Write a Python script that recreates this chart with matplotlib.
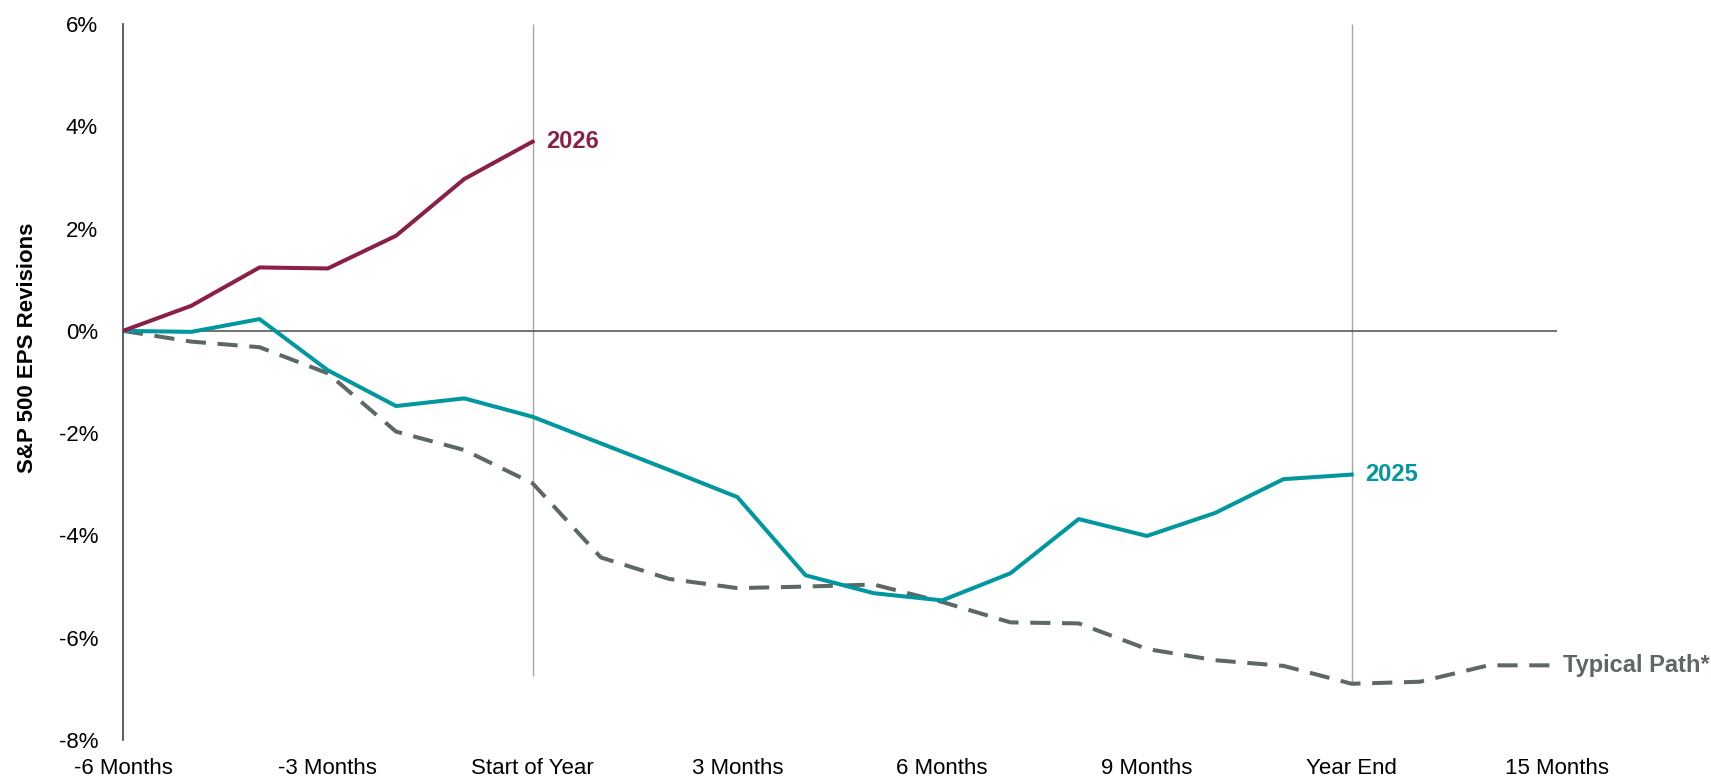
import matplotlib
matplotlib.use("Agg")
import matplotlib.pyplot as plt
from matplotlib import font_manager

# ---- data ----
months_2026 = [-6, -5, -4, -3, -2, -1, 0]
eps_2026 = [0.0, 0.49, 1.24, 1.22, 1.86, 2.97, 3.70]

months_2025 = list(range(-6, 13))
eps_2025 = [0.0, -0.02, 0.23, -0.77, -1.47, -1.32, -1.68, -2.20, -2.72, -3.25,
            -4.78, -5.13, -5.27, -4.74, -3.68, -4.01, -3.56, -2.90, -2.81]

months_typ = list(range(-6, 16))
eps_typ = [0.0, -0.21, -0.32, -0.83, -1.97, -2.33, -2.98, -4.43, -4.85, -5.03,
           -5.00, -4.96, -5.30, -5.70, -5.72, -6.22, -6.44, -6.55, -6.90, -6.86,
           -6.54, -6.54]

tick_pos = [-6, -3, 0, 3, 6, 9, 12, 15]
tick_labels = ["-6 Months", "-3 Months", "Start of Year", "3 Months", "6 Months",
               "9 Months", "Year End", "15 Months"]
y_ticks = [-8, -6, -4, -2, 0, 2, 4, 6]

c2026 = "#8A1F47"
c2025 = "#00979F"
ctyp = "#5D6766"

available = {f.name for f in font_manager.fontManager.ttflist}
fam = [f for f in ["Liberation Sans Narrow", "Liberation Sans", "DejaVu Sans"] if f in available]
plt.rcParams["font.family"] = fam

fig = plt.figure(figsize=(17.11, 7.84), dpi=100)
ax = fig.add_axes([0.0719, 0.0561, 0.9117 - 0.0719, 0.9694 - 0.0561])

ax.set_xlim(-6, 15.05)
ax.set_ylim(-8, 6)

# reference lines
ax.vlines(0, -6.75, 6, color="#A6A6A6", lw=1.0, zorder=1)
ax.vlines(12, -6.9, 6, color="#A6A6A6", lw=1.0, zorder=1)
ax.hlines(0, -6, 15, color="#595959", lw=1.2, zorder=1)

ax.plot(months_typ, eps_typ, color=ctyp, lw=2.9, dashes=(5.0, 2.9), zorder=2)
ax.plot(months_2025, eps_2025, color=c2025, lw=2.9, zorder=3)
ax.plot(months_2026, eps_2026, color=c2026, lw=2.9, zorder=4)

ax.text(months_2026[-1] + 0.2, eps_2026[-1], "2026", color=c2026, fontsize=17,
        fontweight="bold", va="center", ha="left")
ax.text(months_2025[-1] + 0.2, eps_2025[-1], "2025", color=c2025, fontsize=17,
        fontweight="bold", va="center", ha="left")
ax.text(months_typ[-1] + 0.1, eps_typ[-1], "Typical Path*", color=ctyp, fontsize=17,
        fontweight="bold", va="center", ha="left")

for s in ["top", "right", "bottom"]:
    ax.spines[s].set_visible(False)
ax.spines["left"].set_color("#404040")
ax.spines["left"].set_linewidth(1.2)

ax.set_xticks(tick_pos)
ax.set_xticklabels(tick_labels, fontsize=16)
ax.set_yticks(y_ticks)
ax.set_yticklabels([f"{v}%" for v in y_ticks], fontsize=16)
ax.tick_params(axis="both", length=0)
ax.tick_params(axis="x", pad=13)
ax.tick_params(axis="y", pad=18)
ax.set_ylabel("S&P 500 EPS Revisions", fontsize=16, fontweight="bold")
ax.yaxis.set_label_coords(-0.059, 0.548)

fig.savefig("out.png", dpi=100)
